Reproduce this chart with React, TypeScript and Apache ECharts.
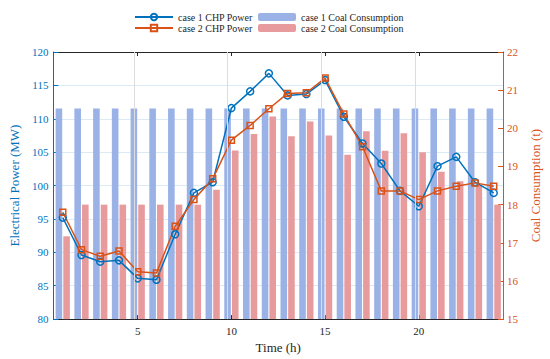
import React, { useEffect, useRef } from 'react';
import * as echarts from 'echarts';

const hours = [1, 2, 3, 4, 5, 6, 7, 8, 9, 10, 11, 12, 13, 14, 15, 16, 17, 18, 19, 20, 21, 22, 23, 24];
const xTicks = [5, 10, 15, 20];
const case1Power = [95.2, 89.6, 88.6, 88.8, 86.1, 85.9, 92.7, 98.9, 100.5, 111.6, 114.1, 116.8, 113.5, 113.7, 115.8, 110.3, 106.3, 103.3, 99.2, 96.9, 102.9, 104.3, 100.5, 98.9];
const case2Power = [96.0, 90.4, 89.4, 90.2, 87.1, 86.9, 93.9, 97.9, 101.0, 106.8, 109.0, 111.5, 113.8, 113.9, 116.1, 110.7, 105.8, 99.2, 99.2, 97.9, 99.2, 99.9, 100.4, 99.9];
const case1Coal = [20.52, 20.52, 20.52, 20.52, 20.52, 20.52, 20.52, 20.52, 20.52, 20.52, 20.52, 20.52, 20.52, 20.52, 20.52, 20.52, 20.52, 20.52, 20.52, 20.52, 20.52, 20.52, 20.52, 20.52];
const case2Coal = [17.17, 18.0, 18.0, 18.0, 18.0, 18.0, 18.0, 18.0, 18.39, 19.42, 19.85, 20.31, 19.79, 20.18, 19.81, 19.31, 19.92, 19.41, 19.87, 19.37, 18.86, 18.61, 18.5, 18.0];

const BLUE = '#0072BD';
const ORANGE = '#D95319';
const BAR_BLUE = '#9AB2E6';
const BAR_PINK = '#E89B9C';
const DARK = '#262626';
const FONT = "'Liberation Serif', 'Times New Roman', serif";

const pairs = (vals: number[]) => hours.map((h, i) => [h, vals[i]]);

export default function App() {
  const ref = useRef<HTMLDivElement>(null);
  useEffect(() => {
    const chart = echarts.init(ref.current!, null, { renderer: 'svg' });
    const xBase = {
      type: 'value',
      min: 0.5,
      max: 24.5,
      splitLine: { show: false },
      axisLine: { show: true, onZero: false, lineStyle: { color: DARK, width: 1 } },
      axisTick: { show: true, inside: true, length: 4, customValues: xTicks, lineStyle: { color: DARK } },
    };
    const legendText = { fontFamily: FONT, fontSize: 10, color: DARK, fontWeight: 'normal' };
    chart.setOption({
      animation: false,
      backgroundColor: '#fff',
      textStyle: { fontFamily: FONT, fontWeight: 'normal' },
      legend: [
        {
          orient: 'vertical',
          left: 129,
          top: 7,
          itemWidth: 38,
          itemHeight: 8,
          itemGap: 1,
          textStyle: legendText,
          data: ['case 1 CHP Power', 'case 2 CHP Power'],
        },
        {
          orient: 'vertical',
          left: 253,
          top: 7,
          itemWidth: 38,
          itemHeight: 8,
          itemGap: 1,
          textStyle: legendText,
          data: ['case 1 Coal Consumption', 'case 2 Coal Consumption'],
        },
      ],
      grid: { left: 45, right: 40, top: 52, bottom: 39 },
      xAxis: [
        {
          ...xBase,
          position: 'bottom',
          axisLabel: { customValues: xTicks, color: DARK, fontSize: 11, fontFamily: FONT, margin: 6 },
          name: 'Time (h)',
          nameLocation: 'middle',
          nameGap: 19,
          nameTextStyle: { color: DARK, fontSize: 13, fontFamily: FONT, fontWeight: 'normal' },
        },
        {
          ...xBase,
          position: 'top',
          axisLabel: { show: false },
        },
      ],
      yAxis: [
        {
          type: 'value',
          position: 'left',
          min: 80,
          max: 120,
          interval: 5,
          axisLine: { show: true, lineStyle: { color: BLUE, width: 1 } },
          axisTick: { show: true, inside: true, length: 5, lineStyle: { color: BLUE } },
          axisLabel: { color: BLUE, fontSize: 11, fontFamily: FONT, margin: 5 },
          splitLine: { show: true, lineStyle: { color: '#DCEAF6', width: 1 } },
          name: 'Electrical Power (MW)',
          nameLocation: 'middle',
          nameGap: 25,
          nameTextStyle: { color: BLUE, fontSize: 13, fontFamily: FONT, fontWeight: 'normal' },
        },
        {
          type: 'value',
          position: 'right',
          min: 15,
          max: 22,
          interval: 1,
          axisLine: { show: true, lineStyle: { color: ORANGE, width: 1 } },
          axisTick: { show: true, inside: true, length: 5, lineStyle: { color: ORANGE } },
          axisLabel: { color: ORANGE, fontSize: 11, fontFamily: FONT, margin: 4 },
          splitLine: { show: false },
          name: 'Coal Consumption (t)',
          nameLocation: 'middle',
          nameGap: 23,
          nameTextStyle: { color: ORANGE, fontSize: 13, fontFamily: FONT, fontWeight: 'normal' },
        },
      ],
      series: [
        {
          name: 'case 1 Coal Consumption',
          type: 'bar',
          xAxisIndex: 0,
          yAxisIndex: 1,
          barWidth: 6.6,
          barGap: '16%',
          itemStyle: { color: BAR_BLUE },
          emphasis: { disabled: true },
          data: pairs(case1Coal),
          markLine: {
            silent: true,
            symbol: ['none', 'none'],
            label: { show: false },
            lineStyle: { color: '#DDDDDD', width: 1, type: 'solid' },
            emphasis: { disabled: true },
            data: xTicks.map((v) => ({ xAxis: v })),
          },
        },
        {
          name: 'case 2 Coal Consumption',
          type: 'bar',
          xAxisIndex: 0,
          yAxisIndex: 1,
          barWidth: 6.6,
          barGap: '16%',
          itemStyle: { color: BAR_PINK },
          emphasis: { disabled: true },
          data: pairs(case2Coal),
        },
        {
          name: 'case 1 CHP Power',
          type: 'line',
          xAxisIndex: 0,
          yAxisIndex: 0,
          symbol: 'circle',
          symbolSize: 7,
          z: 4,
          lineStyle: { color: BLUE, width: 1.5 },
          itemStyle: { color: 'rgba(255,255,255,0)', borderColor: BLUE, borderWidth: 1.5 },
          emphasis: { disabled: true },
          data: pairs(case1Power),
        },
        {
          name: 'case 2 CHP Power',
          type: 'line',
          xAxisIndex: 0,
          yAxisIndex: 0,
          symbol: 'rect',
          symbolSize: 6,
          z: 4,
          lineStyle: { color: ORANGE, width: 1.5 },
          itemStyle: { color: 'rgba(255,255,255,0)', borderColor: ORANGE, borderWidth: 1.5 },
          emphasis: { disabled: true },
          data: pairs(case2Power),
        },
      ],
    });
    return () => chart.dispose();
  }, []);
  return (
    <div
      ref={ref}
      style={{ position: 'fixed', left: 0, top: 0, width: 550, height: 359, background: '#fff' }}
    />
  );
}
